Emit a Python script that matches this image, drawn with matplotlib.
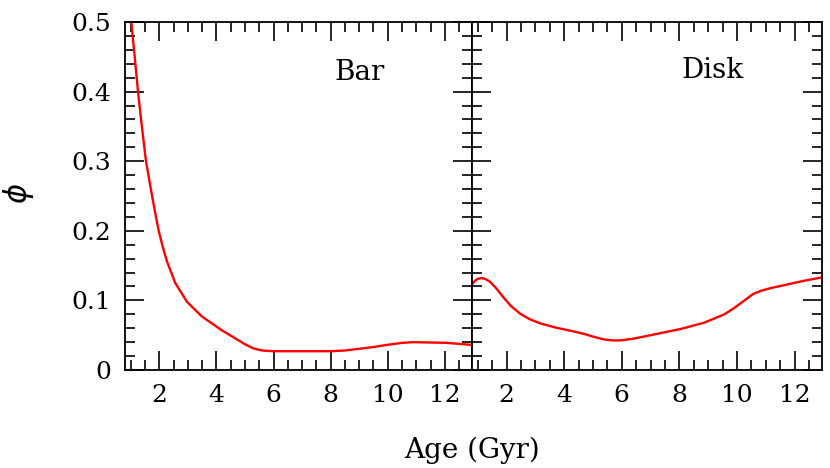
import matplotlib.pyplot as plt
from matplotlib.ticker import MultipleLocator

# values
bar_age = [1.02, 1.14, 1.255, 1.39, 1.535, 1.74, 1.88, 1.98, 2.12, 2.27, 2.56, 2.97, 3.49, 4.19, 4.66,
           5.0, 5.3, 5.6, 6.0, 7.0, 8.0, 8.5, 8.9, 9.5, 9.96, 10.5, 10.9, 11.5, 12.06, 12.95]
bar_phi = [0.50, 0.45, 0.40, 0.35, 0.30, 0.252, 0.221, 0.200, 0.177, 0.156, 0.125, 0.098, 0.077, 0.057, 0.0455,
           0.037, 0.031, 0.028, 0.027, 0.027, 0.027, 0.028, 0.030, 0.033, 0.036, 0.039, 0.040, 0.0395, 0.039, 0.036]

disk_age = [0.78, 0.9, 1.0, 1.13, 1.25, 1.42, 1.65, 1.88, 2.15, 2.47, 2.8, 3.17, 3.7, 4.21, 4.68, 5.0, 5.37,
            5.7, 5.96, 6.4, 7.0, 8.05, 8.86, 9.56, 9.9, 10.26, 10.55, 10.84, 11.2, 11.65, 12.3, 12.95]
disk_phi = [0.122, 0.128, 0.131, 0.132, 0.131, 0.127, 0.117, 0.105, 0.092, 0.081, 0.073, 0.067, 0.061, 0.0565, 0.052, 0.048, 0.044,
            0.0425, 0.0425, 0.045, 0.050, 0.059, 0.068, 0.080, 0.089, 0.100, 0.109, 0.114, 0.118, 0.122, 0.128, 0.133]

xticks = [2, 4, 6, 8, 10, 12]
yticks = [0, 0.1, 0.2, 0.3, 0.4, 0.5]

plt.rcParams['font.family'] = 'DejaVu Serif'

fig = plt.figure(figsize=(8.3, 4.68), dpi=100)
ax1 = fig.add_axes([125 / 830, 1 - 370 / 468, 347 / 830, 348 / 468])
ax2 = fig.add_axes([472 / 830, 1 - 370 / 468, 350 / 830, 348 / 468])

ax1.plot(bar_age, bar_phi, color='red', lw=1.7)
ax2.plot(disk_age, disk_phi, color='red', lw=1.7)

for ax in (ax1, ax2):
    ax.set_xlim(0.8, 12.95)
    ax.set_ylim(0, 0.5)
    ax.set_xticks(xticks)
    ax.set_yticks(yticks)
    ax.xaxis.set_minor_locator(MultipleLocator(0.5))
    ax.yaxis.set_minor_locator(MultipleLocator(0.02))
    ax.tick_params(which='both', direction='in', top=True, right=True, width=1.2, labelsize=18)
    ax.tick_params(which='major', length=14, pad=10)
    ax.tick_params(which='minor', length=7)
    for s in ax.spines.values():
        s.set_linewidth(1.3)

ax1.set_yticklabels(['0', '0.1', '0.2', '0.3', '0.4', '0.5'])
ax2.tick_params(labelleft=False)

ax1.text(0.677, 0.856, 'Bar', transform=ax1.transAxes, ha='center', va='center', fontsize=20)
ax2.text(0.686, 0.862, 'Disk', transform=ax2.transAxes, ha='center', va='center', fontsize=20)

fig.text(18 / 830, 1 - 193 / 468, r'$\phi$', ha='center', va='center', fontsize=22, rotation=90)
fig.text(472 / 830, 1 - 450 / 468, 'Age (Gyr)', ha='center', va='center', fontsize=20)

fig.savefig('out.png', dpi=100)
